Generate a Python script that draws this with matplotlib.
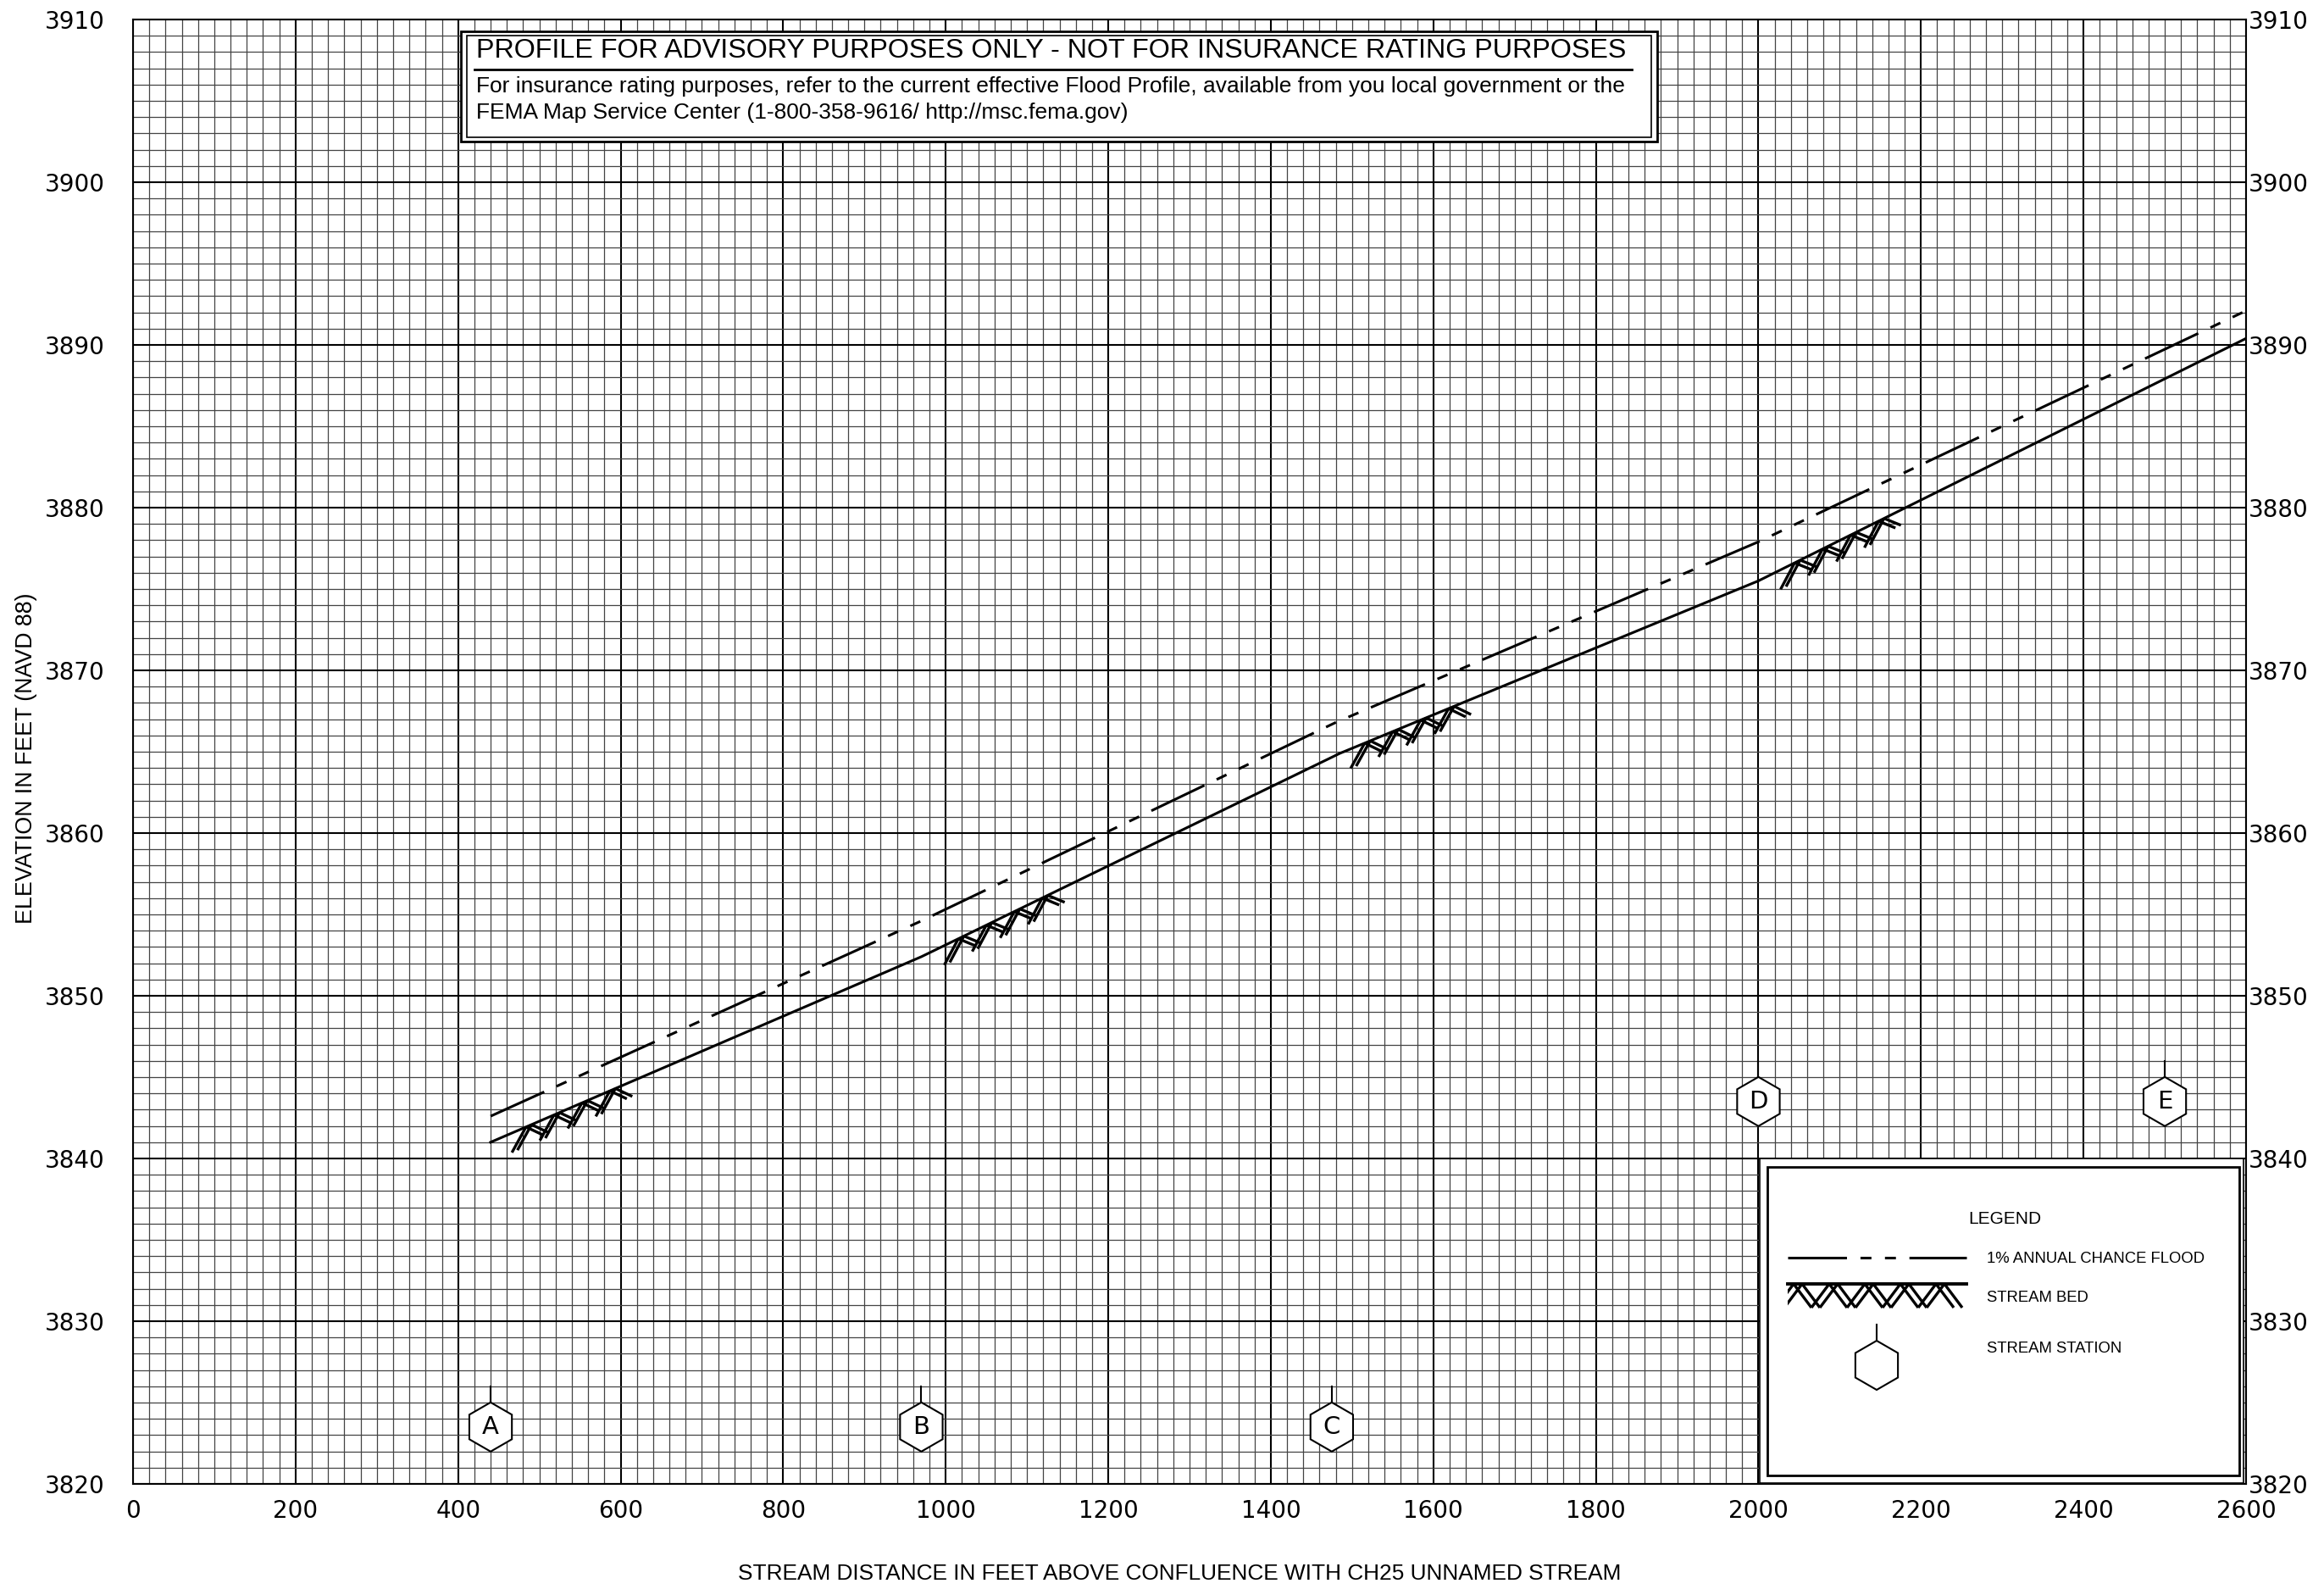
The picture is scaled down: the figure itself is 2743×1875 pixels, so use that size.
import numpy as np
import matplotlib.pyplot as plt
from matplotlib.ticker import MultipleLocator
from matplotlib.patches import Rectangle, Polygon
from matplotlib.collections import LineCollection

plt.rcParams['lines.scale_dashes'] = False

# profiles (stream distance ft, elevation ft NAVD 88)
flood_dist = [440, 970, 1480, 2000, 2600]
flood_elev = [3842.6, 3854.6, 3866.8, 3877.9, 3892.1]
bed_dist = [440, 970, 1485, 2000, 2600]
bed_elev = [3841.0, 3852.4, 3864.9, 3875.5, 3890.4]

# stream stations
station_labels = ['A', 'B', 'C', 'D', 'E']
station_dist = [440, 970, 1475, 2000, 2500]
station_elev = [3823.5, 3823.5, 3823.5, 3843.5, 3843.5]

# where the stream bed symbol is drawn along the profile
hatch_start = [470, 1002, 1502, 2031]

x_ticks = np.arange(0, 2601, 200)
y_ticks = np.arange(3820, 3911, 10)

title = 'PROFILE FOR ADVISORY PURPOSES ONLY - NOT FOR INSURANCE RATING PURPOSES'
note_lines = ['For insurance rating purposes, refer to the current effective Flood Profile, '
              'available from you local government or the',
              'FEMA Map Service Center (1-800-358-9616/ http://msc.fema.gov)']

TXT = 'Liberation Sans'
NUM = 'DejaVu Sans'

W, H = 2743, 1875
fig = plt.figure(figsize=(W / 100, H / 100), dpi=100)
ax = fig.add_axes([157 / W, 124 / H, 2494 / W, 1728 / H])
ax.set_xlim(x_ticks[0], x_ticks[-1])
ax.set_ylim(y_ticks[0], y_ticks[-1])

# pixel size of one data unit, used for symbols drawn at a fixed pixel size
bb = ax.get_position()
ax_w = bb.width * W
ax_h = bb.height * H
px_x = ax_w / (x_ticks[-1] - x_ticks[0])
px_y = ax_h / (y_ticks[-1] - y_ticks[0])


def fx(px):
    return (px - 157) / ax_w


def fy(py):
    return (1751 - py) / ax_h


# graph paper grid
ax.set_xticks(x_ticks)
ax.set_yticks(y_ticks)
ax.xaxis.set_minor_locator(MultipleLocator(20))
ax.yaxis.set_minor_locator(MultipleLocator(1))
ax.grid(which='major', color='black', lw=1.5)
ax.grid(which='minor', color='#444444', lw=0.9)
ax.set_axisbelow(True)
ax.tick_params(which='both', length=0)
ax.tick_params(axis='x', pad=13, labelsize=20)
ax.tick_params(axis='y', pad=24, labelsize=20)
for lab in ax.get_xticklabels() + ax.get_yticklabels():
    lab.set_fontfamily(NUM)
for sp in ax.spines.values():
    sp.set_linewidth(1.5)

sec = ax.secondary_yaxis('right')
sec.set_yticks(y_ticks)
sec.tick_params(length=0, pad=2, labelsize=20)
sec.spines['right'].set_visible(False)
for lab in sec.get_yticklabels():
    lab.set_fontfamily(NUM)

fig.text(0.0113, 0.523, 'ELEVATION IN FEET (NAVD 88)', rotation=90, ha='center',
         va='center', fontsize=19.3, family=TXT)
fig.text(0.5075, 0.0095, 'STREAM DISTANCE IN FEET ABOVE CONFLUENCE WITH CH25 UNNAMED STREAM',
         ha='center', va='center', fontsize=18.9, family=TXT)

# profiles
flood_dashes = (50, 11.5, 9.3, 11.5, 9.3, 11.5)
ax.plot(flood_dist, flood_elev, color='black', lw=2.2, dashes=flood_dashes, zorder=4)
ax.plot(bed_dist, bed_elev, color='black', lw=2.2, zorder=4)


def zigzag(n, a, b, depth, gap, ext):
    segs = []
    u = 0.0
    for k in range(n):
        for d in (0.0, gap):
            segs.append([(u + d - b * ext / depth, -depth - ext), (u + b + d, 0.0)])
            segs.append([(u + b + d, 0.0), (u + a + b + d, -depth)])
        u += a + b
    return segs


# stream bed symbol, sheared along the bed profile
for x0 in hatch_start:
    segs = []
    for seg in zigzag(4, 20, 13, 18, 6.5, 5):
        pts = []
        for u, v in seg:
            x = x0 + u / px_x
            pts.append((x, np.interp(x, bed_dist, bed_elev) + v / px_y))
        segs.append(pts)
    ax.add_collection(LineCollection(segs, colors='black', lw=2.4, zorder=4))

# stream station hexagons
R = 29
ang = np.radians(np.arange(0, 360, 60))
for lab, sx, sy in zip(station_labels, station_dist, station_elev):
    verts = np.column_stack([sx + R * np.sin(ang) / px_x, sy + R * np.cos(ang) / px_y])
    ax.add_patch(Polygon(verts, closed=True, facecolor='white', edgecolor='black',
                         lw=1.5, zorder=5))
    ax.plot([sx, sx], [sy + R / px_y, sy + (R + 19) / px_y], color='black', lw=1.5, zorder=5)
    ax.text(sx, sy, lab, ha='center', va='center', fontsize=21, family=NUM, zorder=6)

# advisory note box
ax.add_patch(Rectangle((fx(544), fy(167)), fx(1956) - fx(544), fy(37) - fy(167),
                       transform=ax.transAxes, facecolor='white', edgecolor='black',
                       lw=2, zorder=6))
ax.add_patch(Rectangle((fx(551), fy(162)), fx(1949) - fx(551), fy(42) - fy(162),
                       transform=ax.transAxes, facecolor='none', edgecolor='black',
                       lw=1.2, zorder=7))
ax.text(fx(562), fy(68), title, transform=ax.transAxes, fontsize=23.2, family=TXT,
        va='baseline', zorder=8)
ax.plot([fx(560), fx(1926)], [fy(82), fy(82)], transform=ax.transAxes, color='black',
        lw=2, zorder=8)
for line, base in zip(note_lines, [109, 140]):
    ax.text(fx(562), fy(base), line, transform=ax.transAxes, fontsize=19, family=TXT,
            va='baseline', zorder=8)

# legend box
ax.add_patch(Rectangle((fx(2077), fy(1750)), fx(2648) - fx(2077), fy(1367) - fy(1750),
                       transform=ax.transAxes, facecolor='white', edgecolor='black',
                       lw=1.2, zorder=6))
ax.add_patch(Rectangle((fx(2086), fy(1741)), fx(2643) - fx(2086), fy(1377) - fy(1741),
                       transform=ax.transAxes, facecolor='none', edgecolor='black',
                       lw=2, zorder=7))
ax.text(fx(2366), fy(1438), 'LEGEND', transform=ax.transAxes, ha='center', va='center',
        fontsize=15, family=TXT, zorder=8)
ax.plot([fx(2110), fx(2321)], [fy(1484), fy(1484)], transform=ax.transAxes, color='black',
        lw=2.2, dashes=flood_dashes, zorder=8)
ax.text(fx(2345), fy(1485), '1% ANNUAL CHANCE FLOOD', transform=ax.transAxes,
        va='center', fontsize=13.3, family=TXT, zorder=8)

ax.plot([fx(2110), fx(2321)], [fy(1515), fy(1515)], transform=ax.transAxes, color='black',
        lw=2.8, zorder=8)
leg_segs = [[(fx(2096 + u), fy(1515 - v)) for u, v in seg]
            for seg in zigzag(5, 21, 21, 28, 10, 0)]
lc = LineCollection(leg_segs, colors='black', lw=2.4, transform=ax.transAxes, zorder=8)
clip = Rectangle((fx(2110), fy(1545)), fx(2321) - fx(2110), fy(1512) - fy(1545),
                 transform=ax.transAxes)
ax.add_collection(lc)
lc.set_clip_path(clip)
ax.text(fx(2345), fy(1532), 'STREAM BED', transform=ax.transAxes,
        va='center', fontsize=13.3, family=TXT, zorder=8)

hx, hy = fx(2215), fy(1611)
ax.add_patch(Polygon(np.column_stack([hx + R * np.sin(ang) / ax_w, hy + R * np.cos(ang) / ax_h]),
                     closed=True, transform=ax.transAxes, facecolor='white',
                     edgecolor='black', lw=1.5, zorder=8))
ax.plot([hx, hx], [fy(1582), fy(1563)], transform=ax.transAxes, color='black', lw=1.5, zorder=8)
ax.text(fx(2345), fy(1591), 'STREAM STATION', transform=ax.transAxes,
        va='center', fontsize=13.3, family=TXT, zorder=8)

fig.savefig('out.png', dpi=100, facecolor='white')
